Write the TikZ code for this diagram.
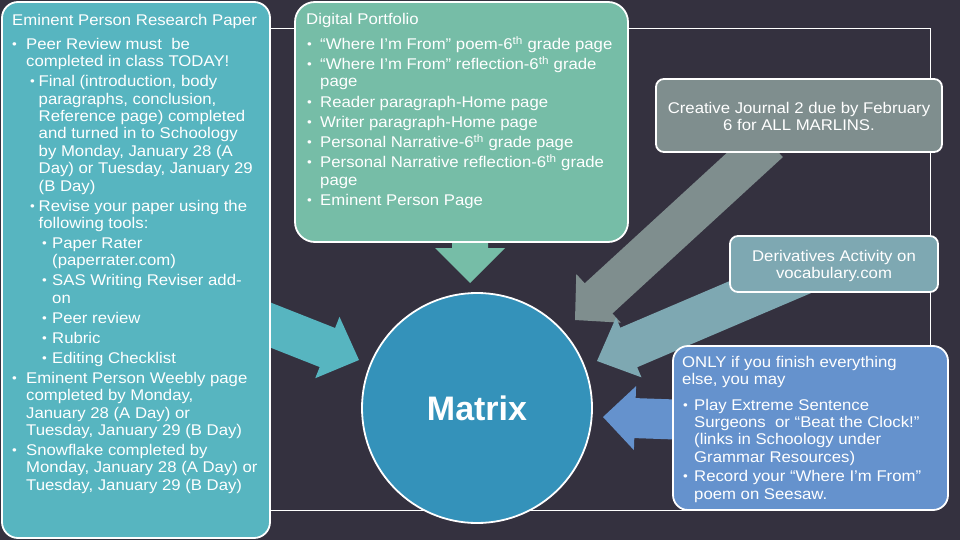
\documentclass[tikz,border=0pt]{standalone}
\usepackage{fontspec}
\setmainfont{Liberation Sans}[FakeStretch=1.08]
\newfontfamily\matrixfont{Liberation Sans}
\usetikzlibrary{calc}
\definecolor{bgdark}{RGB}{52,49,63}
\definecolor{leftteal}{RGB}{87,181,192}
\definecolor{portgreen}{RGB}{118,189,167}
\definecolor{circleblue}{RGB}{52,146,186}
\definecolor{graybox}{RGB}{127,142,142}
\definecolor{derivbox}{RGB}{126,168,178}
\definecolor{onlyblue}{RGB}{101,146,205}
\newcommand\bu[1]{\makebox[#1][l]{\raisebox{0.9pt}{\fontsize{12.5}{12.5}\selectfont •}}}
\newcommand\fstrut{\rule{0pt}{12pt}}
\newcommand\blockarrow[6]{%
  \coordinate (#2-b) at ($(#2)!#5!(#1)$);
  \fill[#6] ($(#1)!#3!90:(#2)$) -- ($(#2-b)!#3!90:(#2)$) -- ($(#2-b)!#4!90:(#2)$) -- (#2)
    -- ($(#2-b)!#4!-90:(#2)$) -- ($(#2-b)!#3!-90:(#2)$) -- ($(#1)!#3!-90:(#2)$) -- cycle;}
\begin{document}
\begin{tikzpicture}[x=1pt,y=-1pt,
  panel/.style={draw=white, line width=1.8pt, inner sep=0pt, outer sep=0pt, anchor=north west},
  txt/.style={text=white, font=\fontsize{15.5}{17.4}\selectfont, align=left, inner sep=0pt, anchor=north west},
  ctxt/.style={text=white, font=\fontsize{15.5}{17}\selectfont, align=center, inner sep=0pt, anchor=north}]
\useasboundingbox (0,0) rectangle (960,540);
\fill[bgdark] (0,0) rectangle (960,540);
\draw[white, line width=1pt] (100,29) rectangle (930,510);
% arrows
\coordinate (da-s) at (470,232);
\coordinate (da-t) at (470,283);
\coordinate (la-s) at (262,321.7);
\coordinate (la-t) at (359,360);
\coordinate (ga-s) at (769,142);
\coordinate (ga-t) at (575,320);
\coordinate (va-s) at (815,268);
\coordinate (va-t) at (597,361);
\coordinate (ba-s) at (690,420);
\coordinate (ba-t) at (603,417);
\blockarrow{da-s}{da-t}{18pt}{35pt}{35pt}{portgreen}
\blockarrow{la-s}{la-t}{21pt}{33pt}{34pt}{leftteal}
\blockarrow{ga-s}{ga-t}{20.5pt}{33pt}{32pt}{graybox}
\blockarrow{va-s}{va-t}{21.5pt}{32.5pt}{34.5pt}{derivbox}
\blockarrow{ba-s}{ba-t}{20pt}{32pt}{32pt}{onlyblue}
% boxes
\node[panel, fill=leftteal, rounded corners=16pt, minimum width=268pt, minimum height=536pt] (leftbox) at (2,2) {};
\node[panel, fill=portgreen, rounded corners=20pt, minimum width=333pt, minimum height=240pt] (portbox) at (295,2) {};
\node[panel, fill=graybox, rounded corners=8pt, minimum width=286pt, minimum height=73pt] (cjbox) at (656,79) {};
\node[panel, fill=derivbox, rounded corners=8pt, minimum width=208pt, minimum height=56pt] (dvbox) at (730,236) {};
\node[panel, fill=onlyblue, rounded corners=15pt, minimum width=275pt, minimum height=164pt] (onlybox) at (673,346) {};
\node[circle, draw=white, line width=1.8pt, fill=circleblue, minimum size=230pt, inner sep=0pt,
  text=white, font=\matrixfont\bfseries\fontsize{34}{40}\selectfont] (matrix) at (477,408) {Matrix};
% texts
\node[txt] (lefttitle) at (12,13) {\fstrut Eminent Person Research Paper};
\node[txt] (leftlist) at (12,37) {\fstrut\bu{14pt}Peer Review must\ \ be\\
\hspace*{14pt}completed in class TODAY!\\[2.6pt]
\hspace*{18pt}\bu{8.5pt}Final (introduction, body\\
\hspace*{26.5pt}paragraphs, conclusion,\\
\hspace*{26.5pt}Reference page) completed\\
\hspace*{26.5pt}and turned in to Schoology\\
\hspace*{26.5pt}by Monday, January 28 (A\\
\hspace*{26.5pt}Day) or Tuesday, January 29\\
\hspace*{26.5pt}(B Day)\\[2.6pt]
\hspace*{18pt}\bu{8.5pt}Revise your paper using the\\
\hspace*{26.5pt}following tools:\\[2.6pt]
\hspace*{30pt}\bu{10pt}Paper Rater\\
\hspace*{40pt}(paperrater.com)\\[2.6pt]
\hspace*{30pt}\bu{10pt}SAS Writing Reviser add-\\
\hspace*{40pt}on\\[2.6pt]
\hspace*{30pt}\bu{10pt}Peer review\\[2.6pt]
\hspace*{30pt}\bu{10pt}Rubric\\[2.6pt]
\hspace*{30pt}\bu{10pt}Editing Checklist\\[2.6pt]
\bu{14pt}Eminent Person Weebly page\\
\hspace*{14pt}completed by Monday,\\
\hspace*{14pt}January 28 (A Day) or\\
\hspace*{14pt}Tuesday, January 29 (B Day)\\[2.6pt]
\bu{14pt}Snowflake completed by\\
\hspace*{14pt}Monday, January 28 (A Day) or\\
\hspace*{14pt}Tuesday, January 29 (B Day)};
\node[txt] (porttitle) at (306,12) {\fstrut Digital Portfolio};
\node[txt] (portlist) at (307,36) {\fstrut\bu{13pt}“Where I’m From” poem-6\textsuperscript{th} grade page\\[2.8pt]
\bu{13pt}“Where I’m From” reflection-6\textsuperscript{th} grade\\
\hspace*{13pt}page\\[2.8pt]
\bu{13pt}Reader paragraph-Home page\\[2.8pt]
\bu{13pt}Writer paragraph-Home page\\[2.8pt]
\bu{13pt}Personal Narrative-6\textsuperscript{th} grade page\\[2.8pt]
\bu{13pt}Personal Narrative reflection-6\textsuperscript{th} grade\\
\hspace*{13pt}page\\[2.8pt]
\bu{13pt}Eminent Person Page};
\node[ctxt] (cjtext) at (799,101) {\fstrut Creative Journal 2 due by February\\6 for ALL MARLINS.};
\node[ctxt] (dvtext) at (834,249) {\fstrut Derivatives Activity on\\vocabulary.com};
\node[txt] (onlytext) at (682,355) {\fstrut ONLY if you finish everything\\
else, you may\\[8pt]
\hspace*{1pt}\bu{11pt}Play Extreme Sentence\\
\hspace*{12pt}Surgeons\ \ or “Beat the Clock!”\\
\hspace*{12pt}(links in Schoology under\\
\hspace*{12pt}Grammar Resources)\\[2pt]
\hspace*{1pt}\bu{11pt}Record your “Where I’m From”\\
\hspace*{12pt}poem on Seesaw.};
\end{tikzpicture}
\end{document}
